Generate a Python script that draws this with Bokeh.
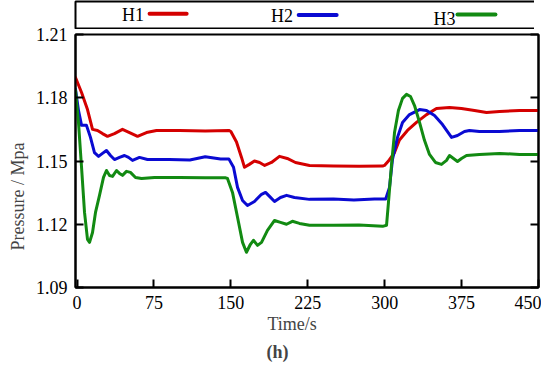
from bokeh.plotting import figure
from bokeh.layouts import column
from bokeh.models import (FixedTicker, NumeralTickFormatter, LinearAxis,
                          CustomJSTickFormatter, Title)
from bokeh.core.properties import value
from bokeh.embed import file_html
from bokeh.resources import INLINE

FONT = "Liberation Serif"

# ---------------- data ----------------
series_names = ["H1", "H2", "H3"]
series_colors = ["#d40000", "#0a0ad2", "#128a12"]

h1_t = [-1.5, 4.4, 10.2, 15.1, 20, 24.8, 29.7, 36.5, 44.3, 51.2, 59, 67.7, 77.5,
        100, 125, 148, 150, 155.5, 160.4, 163.3, 168, 173, 178, 183, 189.6, 197.4,
        205, 213, 226.7, 250, 275, 298, 299.8, 304.5, 309.6, 314.4, 322.2, 331,
        340.8, 350.5, 363.2, 374.9, 387.6, 399.3, 412, 431.5, 450]
h1_v = [1.1896, 1.1825, 1.1744, 1.165, 1.1645, 1.163, 1.1617, 1.163, 1.165, 1.1635,
        1.1617, 1.1635, 1.1645, 1.1645, 1.1642, 1.1645, 1.164, 1.159, 1.1517, 1.147,
        1.1484, 1.150, 1.1493, 1.1479, 1.1493, 1.1522, 1.1512, 1.1493, 1.1479, 1.1476,
        1.1475, 1.1476, 1.1479, 1.1505, 1.154, 1.160, 1.1645, 1.1683, 1.172, 1.1749,
        1.1754, 1.1749, 1.174, 1.173, 1.1735, 1.174, 1.174]

h2_t = [-1.5, 1.4, 4.4, 9.2, 13.1, 17, 21, 24.8, 28.7, 32.6, 36.5, 41.4, 46.3, 50.2,
        54.1, 60.9, 68.7, 90, 110, 125, 140, 148, 152.6, 156.5, 161.4, 166.2, 173,
        179.9, 183.8, 187.7, 192.6, 198.4, 204.3, 212, 226.7, 250, 270, 290, 301,
        304.7, 307.6, 312.5, 317.4, 324.2, 334, 340.8, 348.6, 356.4, 365.2, 371,
        377.8, 382.7, 392.4, 412, 431.5, 450]
h2_v = [1.184, 1.174, 1.1669, 1.1669, 1.1612, 1.154, 1.1522, 1.1536, 1.155, 1.1526,
        1.1507, 1.1517, 1.1526, 1.1517, 1.1503, 1.1517, 1.1507, 1.1507, 1.1505, 1.152,
        1.151, 1.151, 1.147, 1.1375, 1.1313, 1.1289, 1.1308, 1.1342, 1.1351, 1.1332,
        1.1308, 1.1327, 1.1337, 1.1327, 1.1318, 1.132, 1.1315, 1.132, 1.132, 1.1375,
        1.1507, 1.1612, 1.1683, 1.172, 1.1744, 1.174, 1.1716, 1.1673, 1.1612, 1.1621,
        1.164, 1.1645, 1.164, 1.164, 1.1645, 1.1645]

h3_t = [-1.5, 1.4, 4.4, 7.3, 10.2, 12.2, 15.1, 18, 21.9, 25.8, 28.7, 31.7, 34.6, 38.5,
        41.4, 44.3, 48.2, 52.1, 57, 62.9, 75.5, 100, 125, 145, 146.7, 151.6, 156.5,
        161.4, 165.2, 169.1, 172, 176, 179.9, 185.7, 192.6, 198.4, 204.3, 210, 216.9,
        226.7, 250, 275, 298, 301.8, 303.7, 306.6, 309.6, 313.4, 317.4, 321.3, 325.2,
        329.1, 334, 338.8, 343.7, 349.5, 355.4, 360.3, 363.2, 367.1, 371, 374.9,
        379.8, 392.4, 412, 431.5, 450]
h3_v = [1.1835, 1.1683, 1.147, 1.1256, 1.1128, 1.1114, 1.1161, 1.1256, 1.1337, 1.1422,
        1.1455, 1.1431, 1.1427, 1.1455, 1.1441, 1.1432, 1.1451, 1.1446, 1.1422, 1.1417,
        1.1422, 1.1422, 1.142, 1.142, 1.1417, 1.1351, 1.1233, 1.1114, 1.1067, 1.1105,
        1.1124, 1.110, 1.1114, 1.1171, 1.1218, 1.1209, 1.120, 1.1214, 1.1204, 1.1195,
        1.1195, 1.1197, 1.119, 1.1195, 1.1304, 1.1479, 1.1635, 1.174, 1.1797, 1.1816,
        1.1806, 1.1763, 1.1683, 1.1598, 1.1531, 1.1493, 1.1484, 1.1503, 1.1526, 1.1512,
        1.1498, 1.1512, 1.1526, 1.1531, 1.1536, 1.1531, 1.1531]

x_ticks = [0, 75, 150, 225, 300, 375, 450]
y_ticks = [1.09, 1.12, 1.15, 1.18, 1.21]

# legend layout (fractions of the legend box)
leg_text_x = [0.124, 0.446, 0.797]
leg_text_y = [0.50, 0.47, 0.36]
leg_line_x0 = [0.160, 0.482, 0.825]
leg_line_x1 = [0.240, 0.564, 0.907]
leg_line_y = [0.55, 0.50, 0.52]

# ---------------- legend figure ----------------
lf = figure(frame_width=463, frame_height=27, x_range=(0, 1), y_range=(0, 1),
            toolbar_location=None, output_backend="svg",
            x_axis_location=None, y_axis_location=None,
            min_border_left=68, min_border_right=3, min_border_top=1,
            min_border_bottom=1)
lf.grid.visible = False
lf.outline_line_color = "black"
lf.outline_line_width = 2
lf.text(x=leg_text_x, y=leg_text_y, text=series_names, text_font=value(FONT),
        text_font_size="18px", text_align="center", text_baseline="middle",
        text_color="black")
lf.segment(x0=leg_line_x0, y0=leg_line_y, x1=leg_line_x1, y1=leg_line_y,
           line_color=series_colors, line_width=4, line_cap="round")

# ---------------- main figure ----------------
p = figure(frame_width=463, frame_height=253, x_range=(-1.5, 450), y_range=(1.09, 1.21),
           toolbar_location=None, output_backend="svg",
           min_border_left=68, min_border_right=3, min_border_top=15,
           min_border_bottom=75)
p.styles = {"margin-top": "-10px"}
p.border_fill_color = None
p.background_fill_color = "white"
p.grid.visible = False
p.outline_line_color = "black"
p.outline_line_width = 2

for t, v, c in zip([h1_t, h2_t, h3_t], [h1_v, h2_v, h3_v], series_colors):
    p.line(t, v, line_color=c, line_width=3, line_join="round", line_cap="round")

p.xaxis.ticker = FixedTicker(ticks=x_ticks)
p.yaxis.ticker = FixedTicker(ticks=y_ticks)
p.yaxis.formatter = NumeralTickFormatter(format="0.00")

for ax in [p.xaxis[0], p.yaxis[0]]:
    ax.major_tick_in = 8
    ax.major_tick_out = 0
    ax.minor_tick_line_color = None
    ax.axis_line_width = 2
    ax.major_tick_line_width = 2
    ax.major_label_text_font = FONT
    ax.major_label_text_font_size = "18px"
    ax.major_label_text_color = "black"

p.xaxis.major_label_standoff = 8
p.yaxis.major_label_standoff = 8

right = LinearAxis(ticker=FixedTicker(ticks=y_ticks),
                   formatter=CustomJSTickFormatter(code="return ''"))
right.major_tick_in = 8
right.major_tick_out = 0
right.minor_tick_line_color = None
right.axis_line_width = 2
right.major_tick_line_width = 2
right.major_label_standoff = 0
p.add_layout(right, "right")

ylab = Title(text="Pressure  / Mpa", align="left", offset=37, text_font=FONT,
             text_font_size="18px", text_font_style="normal", standoff=10)
p.add_layout(ylab, "left")

t1 = Title(text="Time/s", align="left", offset=192, text_font=FONT,
           text_font_size="18px", text_font_style="normal", standoff=0)
t2 = Title(text="(h)", align="left", offset=191, text_font=FONT,
           text_font_size="18px", text_font_style="bold", standoff=12)
p.add_layout(t1, "below")
p.add_layout(t2, "below")

layout = column(lf, p, spacing=0)
open("out.html", "w").write(file_html(layout, INLINE))
